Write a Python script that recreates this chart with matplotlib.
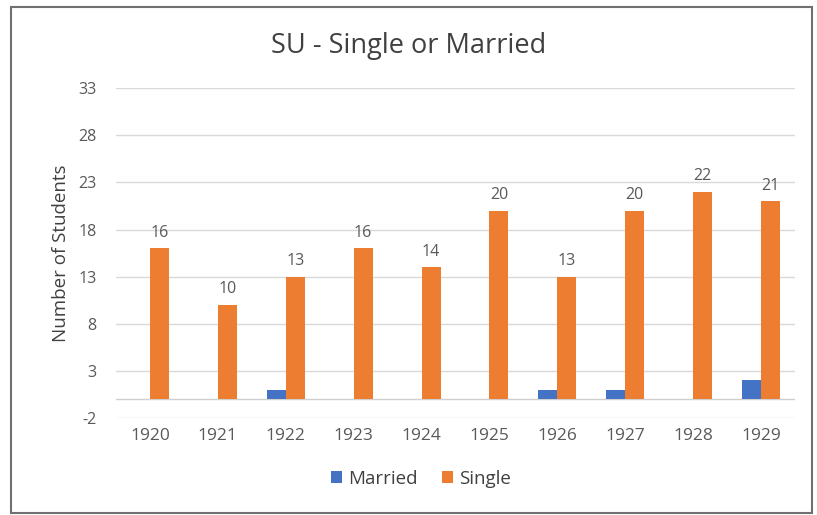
import numpy as np
import matplotlib.pyplot as plt
from matplotlib.patches import Rectangle

years = ['1920', '1921', '1922', '1923', '1924', '1925', '1926', '1927', '1928', '1929']
married = [0, 0, 1, 0, 0, 0, 1, 1, 0, 2]
single = [16, 10, 13, 16, 14, 20, 13, 20, 22, 21]
yticks = [-2, 3, 8, 13, 18, 23, 28, 33]

blue = '#4472C4'
orange = '#ED7D31'
txt = '#595959'

plt.rcParams['font.family'] = ['Open Sans', 'DejaVu Sans']
plt.rcParams['axes.unicode_minus'] = False

fig = plt.figure(figsize=(8.17, 5.15), dpi=100)
# outer chart border
fig.patches.append(Rectangle((11 / 817, 2 / 515), 801 / 817, 506 / 515, transform=fig.transFigure,
                             fill=False, edgecolor='#707070', linewidth=1.5))

ax = fig.add_axes([116 / 817, 0.188, 679 / 817, 0.641])
x = np.arange(len(years))
w = 0.28
ax.bar(x - w / 2, married, w, color=blue, label='Married', zorder=3)
ax.bar(x + w / 2, single, w, color=orange, label='Single', zorder=3)

for xi, v in zip(x, single):
    ax.text(xi + w / 2, v + 0.8, str(v), ha='center', va='bottom', fontsize=11.5, color=txt)

ax.set_ylim(-2, 33)
ax.set_xlim(-0.5, len(years) - 0.5)
ax.set_yticks(yticks)
ax.set_xticks(x)
ax.set_xticklabels(years)
ax.tick_params(axis='both', length=0, colors=txt, labelsize=11.5)
ax.tick_params(axis='x', pad=7, labelsize=12.5)
ax.tick_params(axis='y', pad=14)
ax.grid(axis='y', color='#d9d9d9', linewidth=1, zorder=0)
ax.axhline(0, color='#d0d0d0', linewidth=1, zorder=1)
for s in ax.spines.values():
    s.set_visible(False)

ax.set_ylabel('Number of Students', fontsize=13.5, color='#404040', labelpad=6)
fig.text(0.5, 0.91, 'SU - Single or Married', ha='center', va='center', fontsize=19.5, color='#404040')

fig.legend(loc='center', bbox_to_anchor=(0.515, 0.07), ncol=2, frameon=False,
           handlelength=0.6, handleheight=0.6, handletextpad=0.3, columnspacing=1.3,
           fontsize=13.5, labelcolor='#404040')

fig.savefig('out.png', dpi=100)
